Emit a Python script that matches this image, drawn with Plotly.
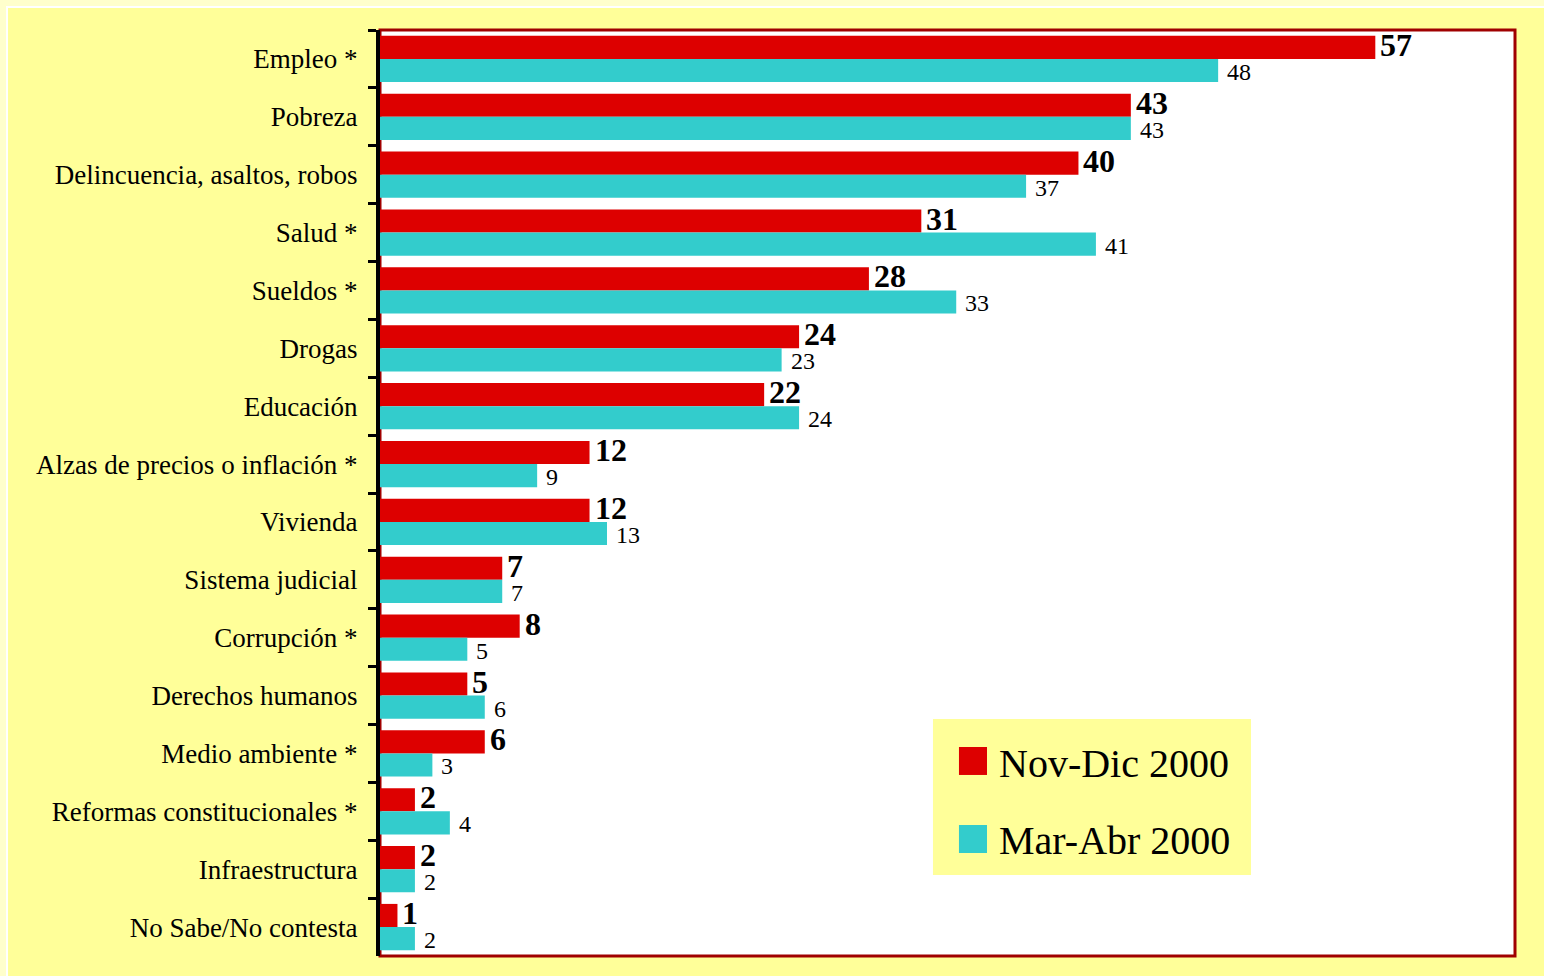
import plotly.graph_objects as go

categories = ["Empleo *", "Pobreza", "Delincuencia, asaltos, robos", "Salud *",
              "Sueldos *", "Drogas", "Educación", "Alzas de precios o inflación *",
              "Vivienda", "Sistema judicial", "Corrupción *", "Derechos humanos",
              "Medio ambiente *", "Reformas constitucionales *", "Infraestructura",
              "No Sabe/No contesta"]
nov_dic_2000 = [57, 43, 40, 31, 28, 24, 22, 12, 12, 7, 8, 5, 6, 2, 2, 1]
mar_abr_2000 = [48, 43, 37, 41, 33, 23, 24, 9, 13, 7, 5, 6, 3, 4, 2, 2]
series_names = ["Nov-Dic 2000", "Mar-Abr 2000"]

RED = "#DD0000"
CYAN = "#33CCCC"
YELLOW = "#FFFF99"
FONT = "Liberation Serif"

fig = go.Figure()
fig.add_trace(go.Bar(
    y=categories, x=nov_dic_2000, orientation="h", name=series_names[0],
    marker=dict(color=RED, line=dict(width=0)), showlegend=False,
))
fig.add_trace(go.Bar(
    y=categories, x=mar_abr_2000, orientation="h", name=series_names[1],
    marker=dict(color=CYAN, line=dict(width=0)), showlegend=False,
))

annotations = []
# value labels (placed at each bar's value via the data axes)
for cat, v in zip(categories, nov_dic_2000):
    annotations.append(dict(
        x=v, y=cat, xref="x", yref="y", text=str(v), showarrow=False,
        xanchor="left", yanchor="middle", xshift=3, yshift=14,
        font=dict(family=FONT, size=32, color="black", weight="bold")))
for cat, v in zip(categories, mar_abr_2000):
    annotations.append(dict(
        x=v, y=cat, xref="x", yref="y", text=str(v), showarrow=False,
        xanchor="left", yanchor="middle", xshift=7, yshift=-13,
        font=dict(family=FONT, size=24, color="black")))

shapes = [
    # outer frame of the slide
    dict(type="rect", xref="paper", yref="paper", x0=-0.3286, x1=1.2, y0=-0.1, y1=1.0248,
         fillcolor=YELLOW, line=dict(color="white", width=2), layer="below"),
    # white plot area with dark red border
    dict(type="rect", xref="paper", yref="paper", x0=0, x1=1, y0=0, y1=1,
         fillcolor="white", line=dict(color="#A00000", width=3), layer="below"),
    # manual legend (large square keys)
    dict(type="rect", xref="paper", yref="paper", x0=0.4872, x1=0.7674, y0=0.0875, y1=0.2559,
         fillcolor=YELLOW, line=dict(width=0), layer="above"),
    dict(type="rect", xref="paper", yref="paper", x0=0.5101, x1=0.5348, y0=0.1955, y1=0.2257,
         fillcolor=RED, line=dict(width=0), layer="above"),
    dict(type="rect", xref="paper", yref="paper", x0=0.5101, x1=0.5348, y0=0.1112, y1=0.1415,
         fillcolor=CYAN, line=dict(width=0), layer="above"),
]
annotations += [
    dict(xref="paper", yref="paper", x=0.5436, y=0.2084, text=series_names[0],
         xanchor="left", yanchor="middle", showarrow=False,
         font=dict(family=FONT, size=40, color="black")),
    dict(xref="paper", yref="paper", x=0.5436, y=0.1242, text=series_names[1],
         xanchor="left", yanchor="middle", showarrow=False,
         font=dict(family=FONT, size=40, color="black")),
]

fig.update_layout(
    width=1544, height=976,
    margin=dict(l=380, r=29, t=30, b=20, autoexpand=False),
    paper_bgcolor="#FFFFCC",
    plot_bgcolor="rgba(0,0,0,0)",
    barmode="group", bargap=0.2, bargroupgap=0,
    showlegend=False,
    shapes=shapes, annotations=annotations,
    font=dict(family=FONT, color="black"),
)
fig.update_xaxes(range=[0, 65], visible=False, showgrid=False, zeroline=False)
fig.update_yaxes(
    type="category", autorange=False,
    range=[len(categories) - 0.5, -0.5],
    showline=True, linecolor="black", linewidth=4,
    ticks="outside", ticklen=8, tickwidth=3, tickcolor="black",
    tickson="boundaries", showgrid=False, zeroline=False,
    tickfont=dict(family=FONT, size=27, color="black"),
    ticklabelstandoff=13, automargin=False,
)

fig.write_html("out.html", config={"displayModeBar": False},
               post_script="document.body.style.margin='0px';document.body.style.overflow='hidden';")
